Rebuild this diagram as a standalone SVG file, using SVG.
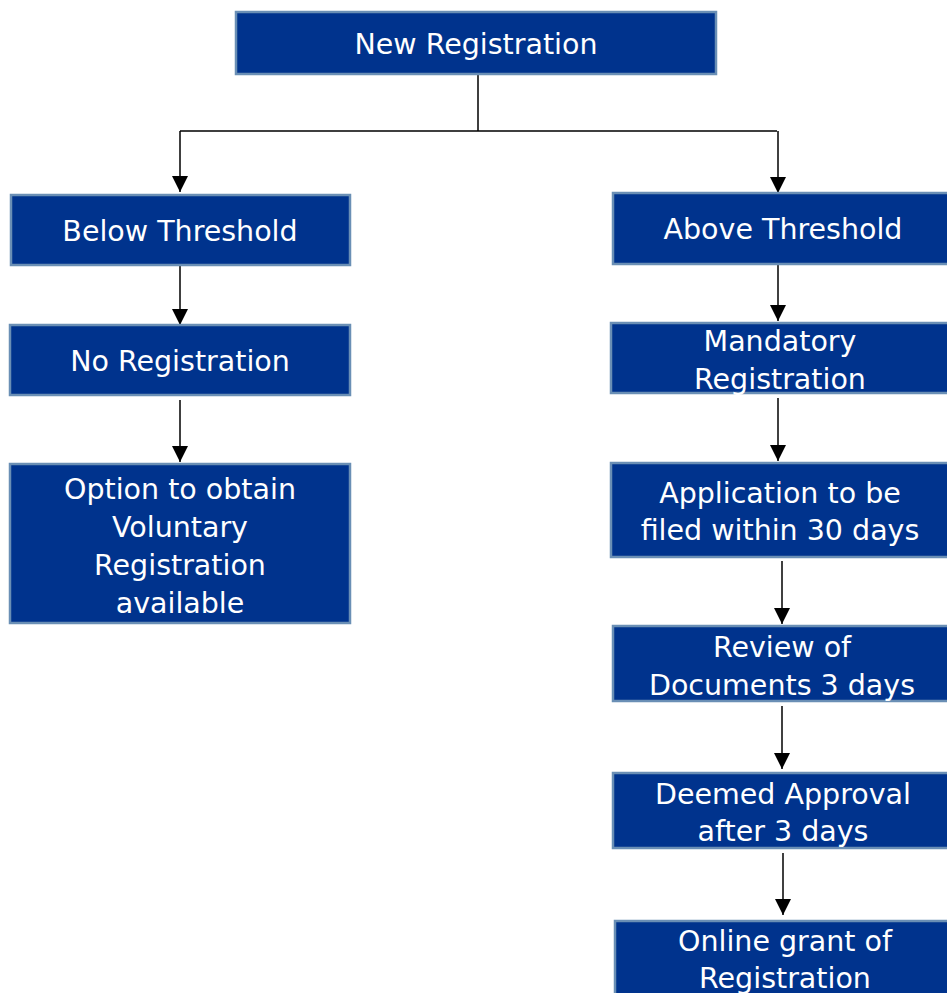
<svg xmlns="http://www.w3.org/2000/svg" width="947" height="993" viewBox="0 0 947 993">
<style>
.box{fill:#00338D;stroke:#6A8FB5;stroke-width:2.5}
.t{fill:#fff;font-family:"DejaVu Sans",sans-serif;font-size:28.5px;text-anchor:middle}
.c{fill:none;stroke:#000;stroke-width:1.5}
</style>
<defs>
<marker id="a" markerUnits="userSpaceOnUse" markerWidth="16" markerHeight="16" refX="16" refY="8" orient="auto" viewBox="0 0 16 16">
<path d="M0,0 L16,8 L0,16 Z" fill="#000"/>
</marker>
</defs>
<rect width="947" height="993" fill="#fff"/>
<g id="connectors">
<path class="c" d="M478,74 V131 M180,131 H777"/>
<path class="c" d="M180,131 V192" marker-end="url(#a)"/>
<path class="c" d="M778,131 V193" marker-end="url(#a)"/>
<path class="c" d="M180,265 V325" marker-end="url(#a)"/>
<path class="c" d="M180,400 V462" marker-end="url(#a)"/>
<path class="c" d="M778,264 V321" marker-end="url(#a)"/>
<path class="c" d="M778,398 V461" marker-end="url(#a)"/>
<path class="c" d="M782,561 V624" marker-end="url(#a)"/>
<path class="c" d="M782,706 V769" marker-end="url(#a)"/>
<path class="c" d="M783,853 V915" marker-end="url(#a)"/>
</g>
<g id="n1"><rect class="box" x="236" y="12" width="480" height="62"/><text class="t" x="476" y="54">New Registration</text></g>
<g id="n2"><rect class="box" x="11" y="195" width="339" height="70"/><text class="t" x="180" y="241">Below Threshold</text></g>
<g id="n3"><rect class="box" x="10" y="325" width="340" height="70"/><text class="t" x="180" y="371">No Registration</text></g>
<g id="n4"><rect class="box" x="10" y="464" width="340" height="159"/><text class="t" x="180" y="499">Option to obtain</text><text class="t" x="180" y="537">Voluntary</text><text class="t" x="180" y="575">Registration</text><text class="t" x="180" y="613">available</text></g>
<g id="n5"><rect class="box" x="613" y="193" width="340" height="71"/><text class="t" x="783" y="239">Above Threshold</text></g>
<g id="n6"><rect class="box" x="611" y="323" width="342" height="70"/><text class="t" x="780" y="351">Mandatory</text><text class="t" x="780" y="389">Registration</text></g>
<g id="n7"><rect class="box" x="611" y="463" width="342" height="94"/><text class="t" x="780" y="503">Application to be</text><text class="t" x="780" y="540">filed within 30 days</text></g>
<g id="n8"><rect class="box" x="613" y="626" width="340" height="75"/><text class="t" x="782" y="657">Review of</text><text class="t" x="782" y="695">Documents 3 days</text></g>
<g id="n9"><rect class="box" x="613" y="773" width="340" height="75"/><text class="t" x="783" y="804">Deemed Approval</text><text class="t" x="783" y="841">after 3 days</text></g>
<g id="n10"><rect class="box" x="615" y="921" width="340" height="80"/><text class="t" x="785" y="951">Online grant of</text><text class="t" x="785" y="988">Registration</text></g>
</svg>
